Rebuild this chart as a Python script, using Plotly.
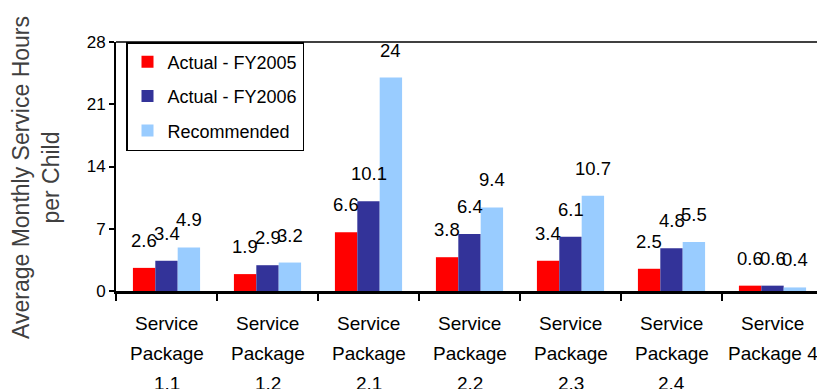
import plotly.graph_objects as go

# Service packages and monthly hours per child
categories = [
    "Service Package 1.1", "Service Package 1.2", "Service Package 2.1",
    "Service Package 2.2", "Service Package 2.3", "Service Package 2.4",
    "Service Package 4",
]
label_lines = [
    ["Service", "Package", "1.1"],
    ["Service", "Package", "1.2"],
    ["Service", "Package", "2.1"],
    ["Service", "Package", "2.2"],
    ["Service", "Package", "2.3"],
    ["Service", "Package", "2.4"],
    ["Service", "Package 4"],
]
fy2005 = [2.6, 1.9, 6.6, 3.8, 3.4, 2.5, 0.6]
fy2006 = [3.4, 2.9, 10.1, 6.4, 6.1, 4.8, 0.6]
recommended = [4.9, 3.2, 24, 9.4, 10.7, 5.5, 0.4]

series = [
    ("Actual - FY2005", fy2005, "#FF0000"),
    ("Actual - FY2006", fy2006, "#333399"),
    ("Recommended", recommended, "#99CCFF"),
]

W, H = 817, 389
ML, MR, MT, MB = 116, 0, 42, 98
plot_w = W - ML - MR
plot_h = H - MT - MB
cat_px = 101.0
x_max = -0.5 + plot_w / cat_px
bargap = 0.335
bar_px = cat_px * (1 - bargap) / 3

FONT = "Liberation Sans, Arial, sans-serif"

fig = go.Figure()
for i, (name, vals, color) in enumerate(series):
    fig.add_trace(go.Bar(
        x=categories, y=vals, name=name, marker_color=color,
        marker_line_width=0, legendgroup=f"g{i}",
    ))

annotations = []
# value labels above each bar (x given as category index)
for j, (name, vals, color) in enumerate(series):
    for ci, v in enumerate(vals):
        annotations.append(dict(
            x=ci, y=v, xref="x", yref="y", text=f"{v:g}", showarrow=False,
            xanchor="center", yanchor="bottom",
            xshift=(j - 1) * bar_px, yshift=15,
            font=dict(family=FONT, size=18.5, color="#000000"),
        ))

# category labels, one line at a time
line_py = [323, 353, 383]
for ci, lines in enumerate(label_lines):
    for k, txt in enumerate(lines):
        annotations.append(dict(
            x=ci, y=(MT + plot_h - line_py[k]) / plot_h, xref="x", yref="paper",
            text=txt, showarrow=False, xanchor="center", yanchor="middle",
            font=dict(family=FONT, size=19, color="#000000"),
        ))

# y-axis title
annotations.append(dict(
    x=-(ML - 36) / plot_w, y=(MT + plot_h - 178) / plot_h,
    xref="paper", yref="paper", xanchor="center", yanchor="middle",
    text="Average Monthly Service Hours<br>per Child", textangle=-90,
    showarrow=False, font=dict(family=FONT, size=23, color="#404040"),
))

fig.update_layout(
    width=W, height=H,
    margin=dict(l=ML, r=MR, t=MT, b=MB, pad=0),
    paper_bgcolor="white", plot_bgcolor="white",
    barmode="group", bargap=bargap, bargroupgap=0,
    font=dict(family=FONT, size=17, color="#000000"),
    showlegend=True,
    legend=dict(
        x=(126 - ML) / plot_w, y=1, xanchor="left", yanchor="top",
        bgcolor="white", bordercolor="#000000", borderwidth=1.5,
        font=dict(family=FONT, size=18, color="#000000"),
        traceorder="grouped", tracegroupgap=8,
    ),
    xaxis=dict(
        type="category", range=[-0.5, x_max],
        showline=True, linecolor="#000000", linewidth=2.5,
        ticks="outside", tickson="boundaries", ticklen=7, tickwidth=2,
        tickcolor="#000000", showticklabels=False, showgrid=False,
    ),
    yaxis=dict(
        range=[0, 28], dtick=7, tick0=0,
        showline=True, linecolor="#000000", linewidth=2,
        ticks="outside", ticklen=5, tickwidth=1.5, tickcolor="#000000",
        showgrid=False, zeroline=True, zerolinecolor="#C0C0C0", zerolinewidth=1,
        tickfont=dict(family=FONT, size=17, color="#000000"),
    ),
    shapes=[dict(
        type="line", xref="paper", yref="paper", x0=0, x1=1, y0=1, y1=1,
        line=dict(color="#000000", width=1.5), layer="below",
    )],
    annotations=annotations,
)

fig.write_html("out.html")
